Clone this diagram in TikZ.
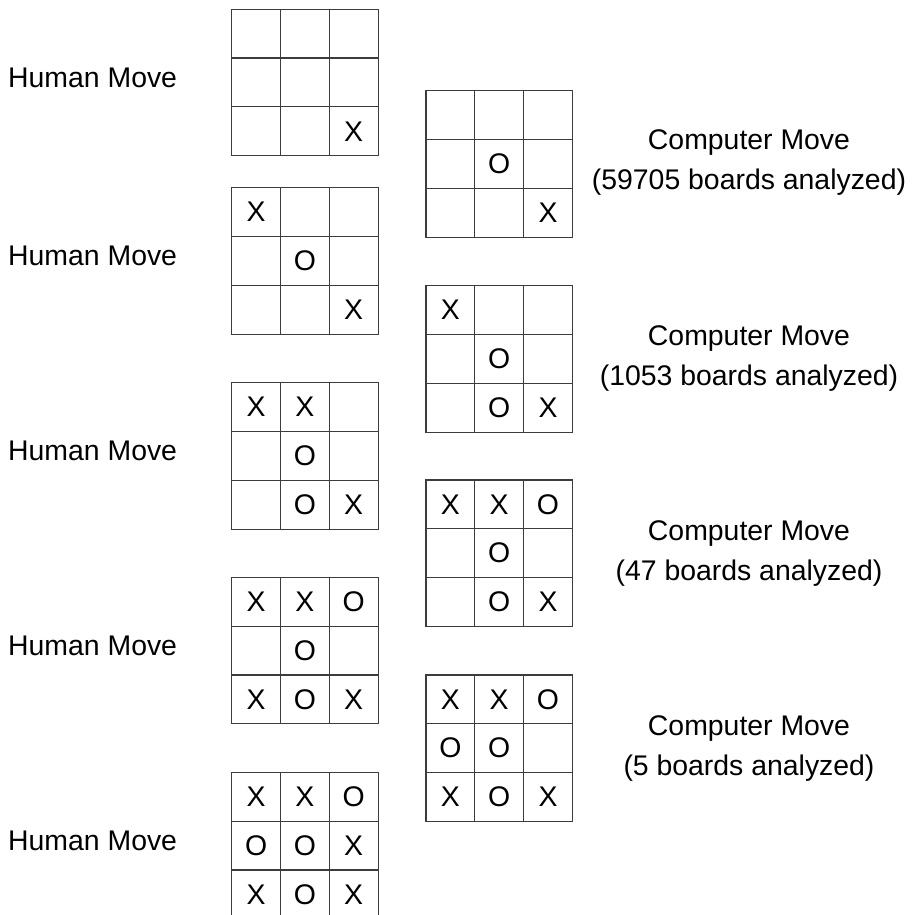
\documentclass[tikz,border=0pt]{standalone}
\usepackage{fontspec}
\setmainfont{Liberation Sans}
\usetikzlibrary{positioning}
\definecolor{gridgray}{RGB}{60,60,60}
\tikzset{
  gridline/.style={draw=gridgray, line width=1.2pt},
  cell/.style={minimum size=48.8pt, inner sep=0pt, font=\fontsize{28.4}{34}\selectfont},
  movelabel/.style={font=\fontsize{28.4}{40}\selectfont, align=center, inner sep=0pt},
}
% one board: name, left, top, the nine marks row by row
\newcommand{\board}[4]{%
  \draw[gridline] (#2,#3) rectangle ++(146.4,146.4);
  \foreach \k in {1,2} {
    \draw[gridline] ({#2+48.8*\k},#3) -- ++(0,146.4);
    \draw[gridline] (#2,{#3+48.8*\k}) -- ++(146.4,0);
  }
  \foreach \mk [count=\i from 0] in {#4} {
    \pgfmathtruncatemacro{\brow}{\i/3}
    \pgfmathtruncatemacro{\bcol}{mod(\i,3)}
    \node[cell] (#1-\i) at ({#2+24.4+48.8*\bcol},{#3+24.4+48.8*\brow}) {\mk};
  }%
}
\begin{document}
\begin{tikzpicture}[x=1pt, y=-1pt]
  \useasboundingbox (0,0) rectangle (913,915);

  % human side
  \board{h1}{231.7}{9.3}{{},{},{},{},{},{},{},{},X}
  \board{h2}{231.7}{187.7}{X,{},{},{},O,{},{},{},X}
  \board{h3}{231.7}{382.7}{X,X,{},{},O,{},{},O,X}
  \board{h4}{231.7}{577.3}{X,X,O,{},O,{},X,O,X}
  \board{h5}{231.7}{772.3}{X,X,O,O,O,X,X,O,X}

  % computer side
  \board{c1}{426}{90.7}{{},{},{},{},O,{},{},{},X}
  \board{c2}{426}{285.7}{X,{},{},{},O,{},{},O,X}
  \board{c3}{426}{480}{X,X,O,{},O,{},{},O,X}
  \board{c4}{426}{675}{X,X,O,O,O,{},X,O,X}

  \node[movelabel, anchor=west] (hum1) at (8,77.5)  {Human Move};
  \node[movelabel, anchor=west] (hum2) at (8,256)   {Human Move};
  \node[movelabel, anchor=west] (hum3) at (8,451)   {Human Move};
  \node[movelabel, anchor=west] (hum4) at (8,645.5) {Human Move};
  \node[movelabel, anchor=west] (hum5) at (8,840.5) {Human Move};

  \node[movelabel] (comp1) at (749,163) {Computer Move\\(59705 boards analyzed)};
  \node[movelabel] (comp2) at (749,359) {Computer Move\\(1053 boards analyzed)};
  \node[movelabel] (comp3) at (749,554) {Computer Move\\(47 boards analyzed)};
  \node[movelabel] (comp4) at (749,749) {Computer Move\\(5 boards analyzed)};
\end{tikzpicture}
\end{document}
